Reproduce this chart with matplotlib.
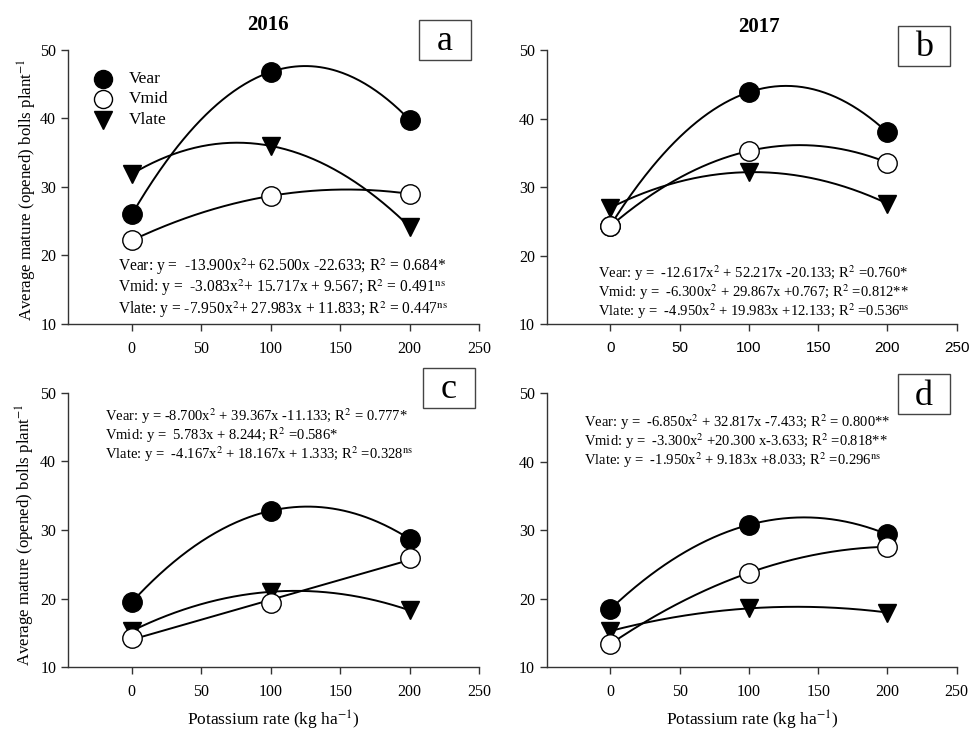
import numpy as np
import matplotlib
matplotlib.use("Agg")
import matplotlib.pyplot as plt
from matplotlib.patches import Rectangle

plt.rcParams['font.family'] = 'Liberation Serif'
plt.rcParams['mathtext.fontset'] = 'stix'

# potassium rates (kg ha-1) and coded levels used for the fits
rates = [0, 100, 200]
coded = [1, 2, 3]

# average mature bolls per plant
a_vear = [26.0, 46.8, 39.8]
a_vmid = [22.2, 28.7, 29.0]
a_vlate = [31.9, 36.0, 24.2]

b_vear = [24.4, 43.9, 38.0]
b_vmid = [24.3, 35.3, 33.6]
b_vlate = [27.0, 32.2, 27.6]

c_vear = [19.5, 32.8, 28.7]
c_vmid = [14.3, 19.3, 25.9]
c_vlate = [15.3, 21.0, 18.3]

d_vear = [18.5, 30.8, 29.4]
d_vmid = [13.4, 23.8, 27.6]
d_vlate = [15.3, 18.6, 18.0]

eq_a = [r"Vear: y =  -13.900x$^{2}$+ 62.500x -22.633; R$^{2}$ = 0.684*",
        r"Vmid: y =  -3.083x$^{2}$+ 15.717x + 9.567; R$^{2}$ = 0.491$^{\rm ns}$",
        r"Vlate: y = -7.950x$^{2}$+ 27.983x + 11.833; R$^{2}$ = 0.447$^{\rm ns}$"]
eq_b = [r"Vear: y =  -12.617x$^{2}$ + 52.217x -20.133; R$^{2}$ =0.760*",
        r"Vmid: y =  -6.300x$^{2}$ + 29.867x +0.767; R$^{2}$ =0.812**",
        r"Vlate: y =  -4.950x$^{2}$ + 19.983x +12.133; R$^{2}$ =0.536$^{\rm ns}$"]
eq_c = [r"Vear: y = -8.700x$^{2}$ + 39.367x -11.133; R$^{2}$ = 0.777*",
        r"Vmid: y =  5.783x + 8.244; R$^{2}$ =0.586*",
        r"Vlate: y =  -4.167x$^{2}$ + 18.167x + 1.333; R$^{2}$ =0.328$^{\rm ns}$"]
eq_d = [r"Vear: y =  -6.850x$^{2}$ + 32.817x -7.433; R$^{2}$ = 0.800**",
        r"Vmid: y =  -3.300x$^{2}$ +20.300 x-3.633; R$^{2}$ =0.818**",
        r"Vlate: y =  -1.950x$^{2}$ + 9.183x +8.033; R$^{2}$ =0.296$^{\rm ns}$"]

W, H = 971, 731
fig = plt.figure(figsize=(W / 100, H / 100), dpi=100)


def px(x, y):
    return x / W, 1 - y / H


def fit_curve(ax, vals, deg=2):
    p = np.polyfit(coded, vals, deg)
    xx = np.linspace(1, 3, 200)
    ax.plot((xx - 1) * 100, np.polyval(p, xx), color='black', lw=1.4, zorder=2)


def panel(pos, vear, vmid, vlate, lin_mid=False, sans_x=False):
    ax = fig.add_axes(pos)
    fit_curve(ax, vear)
    fit_curve(ax, vmid, 1 if lin_mid else 2)
    fit_curve(ax, vlate)
    ax.plot(rates, vear, 'o', ms=14, mfc='black', mec='black', ls='none', zorder=3, label='Vear')
    ax.plot(rates, vmid, 'o', ms=14, mfc='white', mec='black', mew=1, ls='none', zorder=4, label='Vmid')
    ax.plot(rates, vlate, 'v', ms=13, mfc='black', mec='black', ls='none', zorder=3, label='Vlate')
    ax.set_xlim(-46, 250)
    ax.set_ylim(10, 50)
    ax.set_xticks([0, 50, 100, 150, 200, 250])
    ax.set_yticks([10, 20, 30, 40, 50])
    ax.spines['top'].set_visible(False)
    ax.spines['right'].set_visible(False)
    for s in ['left', 'bottom']:
        ax.spines[s].set_linewidth(1.0)
        ax.spines[s].set_color('#333333')
    ax.tick_params(direction='out', length=5, width=1, color='#333333', labelsize=11.5)
    ax.tick_params(axis='x', pad=7)
    if sans_x:
        for t in ax.get_xticklabels():
            t.set_family('Liberation Sans')
            t.set_fontsize(11)
    return ax


def letter_box(cx, cy, letter):
    w, h = 52, 40
    x0, y1 = px(cx - w / 2, cy + h / 2)
    fig.add_artist(Rectangle((x0, y1), w / W, h / H, transform=fig.transFigure,
                             fill=False, edgecolor='#444444', lw=1.0))
    fig.text(*px(cx, cy + 2), letter, ha='center', va='center', fontsize=26)


def equations(x, ys, lines, size):
    for y, s in zip(ys, lines):
        fig.text(*px(x, y), s, ha='left', va='center', fontsize=size)


ax_a = panel([68 / W, 1 - 324 / H, 411 / W, 274 / H], a_vear, a_vmid, a_vlate)
ax_b = panel([546.7 / W, 1 - 324 / H, 410 / W, 273.6 / H], b_vear, b_vmid, b_vlate, sans_x=True)
ax_c = panel([68 / W, 1 - 667.3 / H, 411 / W, 274.6 / H], c_vear, c_vmid, c_vlate, lin_mid=True)
ax_d = panel([546.7 / W, 1 - 667.3 / H, 410 / W, 274 / H], d_vear, d_vmid, d_vlate)

# legend in panel a
leg_marks = [dict(marker='o', mfc='black'), dict(marker='o', mfc='white'), dict(marker='v', mfc='black')]
for i, (name, mk) in enumerate(zip(['Vear', 'Vmid', 'Vlate'], leg_marks)):
    y = [79, 99, 120][i]
    fig.add_artist(plt.Line2D([103 / W], [1 - y / H], transform=fig.transFigure, ls='none',
                              marker=mk['marker'], ms=13, mfc=mk['mfc'], mec='black', mew=1))
    fig.text(*px(129, y), name, ha='left', va='center', fontsize=12.5)

fig.text(*px(268, 25), '2016', ha='center', va='center', fontsize=15, fontweight='bold')
fig.text(*px(759, 27), '2017', ha='center', va='center', fontsize=15, fontweight='bold')

letter_box(445, 40, 'a')
letter_box(924, 46, 'b')
letter_box(449, 388, 'c')
letter_box(924, 394, 'd')

equations(118, [267, 288, 310], eq_a, 11.2)
equations(598, [273, 292, 311], eq_b, 10.5)
equations(105, [416, 435, 454], eq_c, 10.5)
equations(584, [422, 441, 460], eq_d, 10.5)

ylab = r"Average mature (opened) bolls plant$^{-1}$"
fig.text(*px(27, 190), ylab, rotation=90, ha='center', va='center', fontsize=12.2)
fig.text(*px(25, 535), ylab, rotation=90, ha='center', va='center', fontsize=12.2)
xlab = r"Potassium rate (kg ha$^{-1}$)"
fig.text(*px(273, 720), xlab, ha='center', va='center', fontsize=12.5)
fig.text(*px(752, 720), xlab, ha='center', va='center', fontsize=12.5)

fig.savefig('out.png', dpi=100)
